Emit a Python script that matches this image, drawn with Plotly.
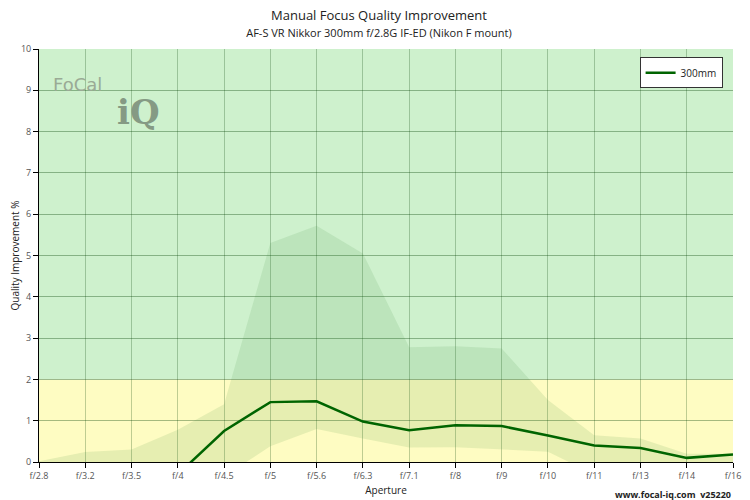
import plotly.graph_objects as go

apertures = ["f/2.8","f/3.2","f/3.5","f/4","f/4.5","f/5","f/5.6","f/6.3","f/7.1","f/8","f/9","f/10","f/11","f/13","f/14","f/16"]
mean_300 = [-1.5,-1.2,-0.9,-0.3,0.75,1.45,1.47,0.98,0.77,0.89,0.87,0.64,0.40,0.34,0.10,0.18]
upper_300 = [0.02,0.24,0.30,0.78,1.40,5.30,5.72,5.05,2.78,2.80,2.75,1.50,0.65,0.57,0.20,0.20]
lower_300 = [-3.0,-2.5,-2.0,-1.2,-0.35,0.38,0.80,0.57,0.35,0.36,0.30,0.25,-0.30,-0.40,-0.40,-0.30]

x = list(range(len(apertures)))
fig = go.Figure()
fig.add_trace(go.Scatter(x=x, y=lower_300, mode="lines", line=dict(width=0), showlegend=False, hoverinfo="skip"))
fig.add_trace(go.Scatter(x=x, y=upper_300, mode="lines", line=dict(width=0), fill="tonexty",
                         fillcolor="rgba(60,140,60,0.12)", showlegend=False, hoverinfo="skip"))
fig.add_trace(go.Scatter(x=x, y=mean_300, mode="lines", name="300mm", line=dict(color="#006400", width=2.5)))

fig.add_shape(type="rect", xref="x", yref="y", x0=0, x1=15, y0=2, y1=10, fillcolor="#cef1cd", line_width=0, layer="below")
fig.add_shape(type="rect", xref="x", yref="y", x0=0, x1=15, y0=0, y1=2, fillcolor="#fefcc2", line_width=0, layer="below")

fig.add_annotation(x=0.018, y=0.945, xref="paper", yref="paper", text="FoCal", showarrow=False,
                   font=dict(family="DejaVu Sans", size=18, color="#9aaa95"), xanchor="left")
fig.add_annotation(x=0.11, y=0.9, xref="paper", yref="paper", text="<b>iQ</b>", showarrow=False,
                   font=dict(family="DejaVu Serif", size=34, color="#859a84"), xanchor="left")
fig.add_annotation(x=1.0, y=-0.1, xref="paper", yref="paper", text="<b>www.focal-iq.com  v25220</b>", showarrow=False,
                   font=dict(family="Open Sans", size=9, color="#222"), xanchor="right")

fig.update_layout(
    width=742, height=492, paper_bgcolor="white", plot_bgcolor="white",
    margin=dict(l=31, r=17, t=41, b=38),
    font=dict(family="Open Sans", size=9, color="#555"),
    title=dict(text="Manual Focus Quality Improvement<br><span style='font-size:11px'>AF-S VR Nikkor 300mm f/2.8G IF-ED (Nikon F mount)</span>",
               x=0.5, y=0.975, xanchor="center", yanchor="top", font=dict(size=13, color="#222")),
    xaxis=dict(tickmode="array", tickvals=x, ticktext=apertures, range=[0, 15], showgrid=True, automargin=False,
               gridcolor="rgba(0,60,0,0.25)", ticks="outside", ticklen=5, tickcolor="black",
               showline=True, linecolor="black", zeroline=False,
               title=dict(text="Aperture", font=dict(size=10, color="#222"), standoff=6)),
    yaxis=dict(range=[0, 10], dtick=1, showgrid=True, automargin=False, gridcolor="rgba(0,60,0,0.35)", ticks="outside",
               ticklen=5, tickcolor="black", showline=True, linecolor="black", zeroline=False,
               title=dict(text="Quality Improvement %", font=dict(size=10, color="#222"), standoff=6)),
    legend=dict(x=0.985, y=0.98, xanchor="right", yanchor="top", bgcolor="white", bordercolor="#333",
                borderwidth=1, font=dict(size=10, color="#222")),
)
fig.write_html("out.html")
